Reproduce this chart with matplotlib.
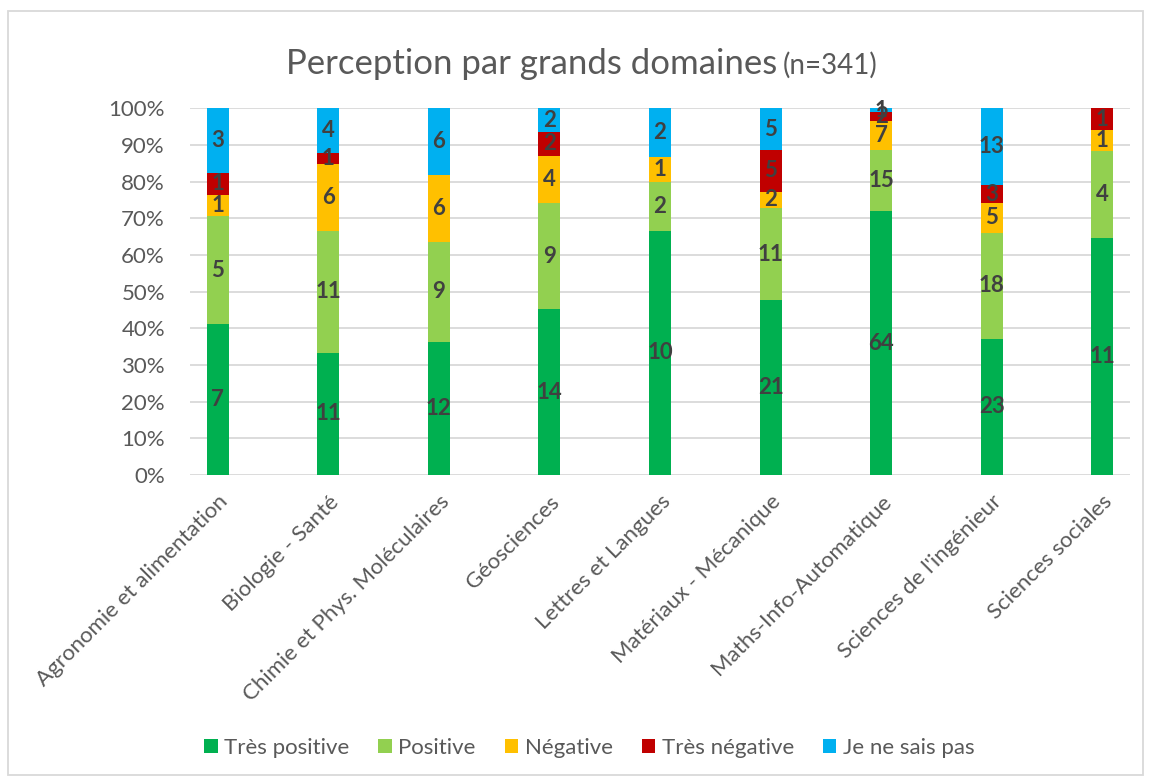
import matplotlib.pyplot as plt
import matplotlib.patches as patches
import numpy as np

plt.rcParams['font.family'] = ['Lato', 'DejaVu Sans']

domaines = ['Agronomie et alimentation', 'Biologie - Santé', 'Chimie et Phys. Moléculaires',
            'Géosciences', 'Lettres et Langues', 'Matériaux - Mécanique',
            'Maths-Info-Automatique', "Sciences de l'ingénieur", 'Sciences sociales']
series = ['Très positive', 'Positive', 'Négative', 'Très négative', 'Je ne sais pas']
tres_positive = [7, 11, 12, 14, 10, 21, 64, 23, 11]
positive = [5, 11, 9, 9, 2, 11, 15, 18, 4]
negative = [1, 6, 6, 4, 1, 2, 7, 5, 1]
tres_negative = [1, 1, 0, 2, 0, 5, 2, 3, 1]
ne_sait_pas = [3, 4, 6, 2, 2, 5, 1, 13, 0]
couleurs = ['#00B050', '#92D050', '#FFC000', '#C00000', '#00B0F0']

gris = '#595959'
valeurs = np.array([tres_positive, positive, negative, tres_negative, ne_sait_pas], dtype=float)
totaux = valeurs.sum(axis=0)
parts = valeurs / totaux

fig = plt.figure(figsize=(11.51, 7.8), dpi=100)
ax = fig.add_axes([190 / 1151, 1 - 475 / 780, 940 / 1151, 366.7 / 780])

x = np.arange(len(domaines))
base = np.zeros(len(domaines))
for i in range(len(series)):
    ax.bar(x, parts[i], bottom=base, width=0.2, color=couleurs[i], label=series[i], zorder=3)
    for j in range(len(domaines)):
        if valeurs[i][j] > 0:
            ax.text(x[j], base[j] + parts[i][j] / 2, str(int(valeurs[i][j])), ha='center', va='center',
                    fontsize=16, fontweight='bold', color='#404040', zorder=4)
    base = base + parts[i]

ax.set_xlim(-0.25, len(domaines) - 0.75)
ax.set_ylim(0, 1)
ax.set_yticks(np.arange(0, 1.01, 0.1))
ax.set_yticklabels([str(int(round(v * 100))) + '%' for v in np.arange(0, 1.01, 0.1)])
ax.yaxis.grid(True, color='#D9D9D9', linewidth=1.3, zorder=0)
ax.set_axisbelow(True)
for s in ['top', 'right', 'left', 'bottom']:
    ax.spines[s].set_visible(False)
ax.tick_params(axis='both', length=0, labelsize=16, labelcolor=gris)
ax.tick_params(axis='y', pad=18)
ax.set_xticks(x)
ax.set_xticklabels(domaines, rotation=45, ha='right', va='top', rotation_mode='anchor')
ax.tick_params(axis='x', pad=12)

# titre en deux morceaux, le (n=341) plus petit
fig.text(777 / 1151, 1 - 74 / 780, 'Perception par grands domaines', ha='right', va='baseline', fontsize=25, color=gris)
fig.text(783 / 1151, 1 - 74 / 780, '(n=341)', ha='left', va='baseline', fontsize=20, color=gris)

fig.legend(loc='center', bbox_to_anchor=(0.512, 0.041), ncol=5, frameon=False, fontsize=16,
           handlelength=0.6, handleheight=0.6, handletextpad=0.3, columnspacing=1.3,
           labelcolor=gris)

fig.patches.append(patches.Rectangle((8 / 1151, 5 / 780), 1135 / 1151, 764 / 780, transform=fig.transFigure,
                                     fill=False, edgecolor='#D9D9D9', linewidth=1.3))

fig.savefig('out.png', dpi=100)
